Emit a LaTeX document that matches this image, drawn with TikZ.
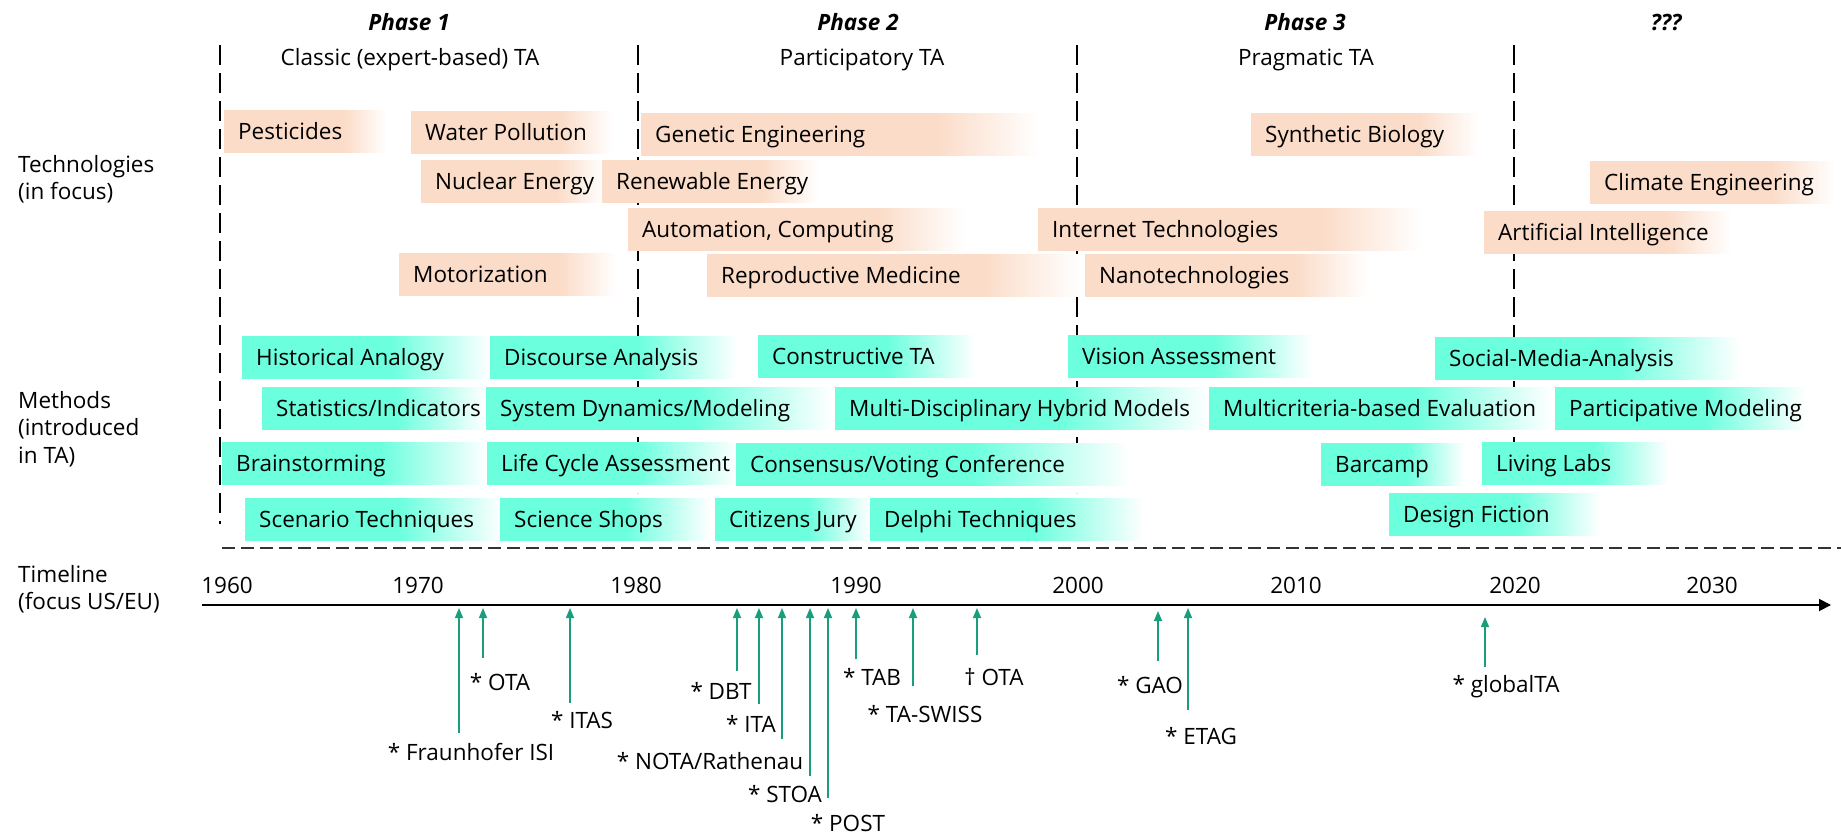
\documentclass[tikz,border=0pt]{standalone}
\usepackage{fontspec}
\setmainfont{Open Sans}
\usetikzlibrary{arrows.meta}
\definecolor{techpeach}{RGB}{251,220,200}
\definecolor{methteal}{RGB}{108,255,222}
\definecolor{eventgreen}{RGB}{24,158,124}
\pgfdeclarehorizontalshading{techfade}{100bp}{color(0bp)=(techpeach); color(62bp)=(techpeach); color(75bp)=(white); color(100bp)=(white)}
\pgfdeclarehorizontalshading{methfade}{100bp}{color(0bp)=(methteal); color(55bp)=(methteal); color(75bp)=(white); color(100bp)=(white)}
\tikzset{box/.style={anchor=west, minimum height=42pt, inner xsep=14pt, inner ysep=0pt,
    text height=21pt, text depth=5pt}}
\tikzset{techbox/.style={box, shading=techfade}}
\tikzset{methbox/.style={box, shading=methfade}}
\tikzset{rowlabel/.style={anchor=west, align=left, inner sep=0pt}}
\tikzset{phaseline/.style={line width=1.8pt, dash pattern=on 20pt off 8pt}}
\tikzset{sepline/.style={line width=1.6pt, black!80, dash pattern=on 13pt off 6pt}}
\tikzset{axis/.style={line width=1.8pt, -{Triangle[length=12pt,width=12pt]}}}
\tikzset{event/.style={eventgreen, line width=1.5pt, -{Triangle[length=10pt,width=8pt]}}}

\begin{document}
\begin{tikzpicture}[x=1pt, y=-1pt, font=\fontsize{22.5}{27.5}\selectfont]
  \useasboundingbox (0,0) rectangle (1841,835);

  % phases
  \begin{scope}[font=\fontsize{22.5}{27.5}\selectfont\bfseries\itshape]
    \node (ph1) at (409,22) {Phase 1};
    \node (ph2) at (858,22) {Phase 2};
    \node (ph3) at (1305,22) {Phase 3};
    \node (ph4) at (1666,23) {???};
  \end{scope}
  \node (classic) at (410,60) {Classic (expert-based) TA};
  \node (partic) at (862,60) {Participatory TA};
  \node (pragm) at (1306,60) {Pragmatic TA};
  \foreach \xx/\yb in {220/524, 638/493, 1077/493, 1514/493}
    \draw[phaseline] (\xx,45) -- (\xx,\yb);

  % row labels
  \node[rowlabel] (techlbl) at (18,179) {Technologies\\(in focus)};
  \node[rowlabel] (methlbl) at (18,429) {Methods\\(introduced\\in TA)};
  \node[rowlabel] (timelbl) at (18,589) {Timeline\\(focus US/EU)};

  % technologies
  \foreach \xa/\xb/\yy/\nm/\txt in {
      224/386/131/pest/{Pesticides}, 411/612/132/water/{Water Pollution},
      641/1040/134/genetic/{Genetic Engineering}, 1251/1478/134/synbio/{Synthetic Biology},
      421/604/181/nuclear/{Nuclear Energy}, 602/818/181/renew/{Renewable Energy},
      1590/1835/182/climate/{Climate Engineering},
      628/965/229/autom/{Automation, Computing}, 1038/1421/229/internet/{Internet Technologies},
      1484/1731/232/ai/{Artificial Intelligence},
      399/616/274/motor/{Motorization}, 707/1081/275/repro/{Reproductive Medicine},
      1085/1368/275/nano/{Nanotechnologies}} {
    \pgfmathsetmacro\bw{\xb-\xa-28}
    \node[techbox] (\nm) at (\xa,\yy) {\makebox[\bw pt][l]{\txt}};
  }

  % methods
  \foreach \xa/\xb/\yy/\nm/\txt in {
      242/490/357/hist/{Historical Analogy}, 490/737/357/disc/{Discourse Analysis},
      758/975/356/constr/{Constructive TA}, 1068/1312/356/vision/{Vision Assessment},
      1435/1740/358/social/{Social-Media-Analysis},
      262/486/408/stat/{Statistics/Indicators}, 486/832/408/sysdyn/{System Dynamics/Modeling},
      835/1208/408/multi/{Multi-Disciplinary Hybrid Models},
      1209/1552/408/mcrit/{Multicriteria-based Evaluation},
      1555/1805/408/partmod/{Participative Modeling},
      222/487/463/brain/{Brainstorming}, 487/737/463/lca/{Life Cycle Assessment},
      736/1129/464/cons/{Consensus/Voting Conference},
      1321/1464/464/barcamp/{Barcamp}, 1482/1668/463/living/{Living Labs},
      245/502/519/scen/{Scenario Techniques}, 500/710/519/shops/{Science Shops},
      715/870/519/citiz/{Citizens Jury}, 870/1143/519/delphi/{Delphi Techniques},
      1389/1600/514/design/{Design Fiction}} {
    \pgfmathsetmacro\bw{\xb-\xa-28}
    \node[methbox] (\nm) at (\xa,\yy) {\makebox[\bw pt][l]{\txt}};
  }

  \coordinate (sep0) at (222,548);
  \coordinate (sep1) at (1841,548);
  \draw[sepline] (sep0) -- (sep1);

  % timeline
  \coordinate (ax0) at (202,605);
  \coordinate (ax1) at (1831,605);
  \draw[axis] (ax0) -- (ax1);
  \foreach \yr/\xx in {1960/227, 1970/418, 1980/636, 1990/856, 2000/1078,
      2010/1296, 2020/1515, 2030/1712}
    \node (y\yr) at (\xx,585) {\yr};

  \foreach \nm/\xx/\yb/\yt/\lx/\ly/\txt in {
      isi/459/733/608/471/752/{* Fraunhofer ISI}, ota/483/658/608/500/682/{* OTA},
      itas/570/703/608/582/720/{* ITAS}, dbt/737/671/608/721/691/{* DBT},
      ita/759/704/608/751/724/{* ITA}, nota/782/739/608/710/761/{* NOTA/Rathenau},
      stoa/810/776/608/785/794/{* STOA}, post/828/798/608/848/823/{* POST},
      tab/856/659/608/872/677/{* TAB}, swiss/913/686/608/925/714/{* TA-SWISS},
      otaend/977/655/608/994/677/{\textdagger\ OTA}, gao/1158/661/611/1150/685/{* GAO},
      etag/1188/710/608/1201/736/{* ETAG}, gta/1485/667/617/1506/687/{* globalTA}} {
    \coordinate (\nm-b) at (\xx,\yb);
    \coordinate (\nm-t) at (\xx,\yt);
    \draw[event] (\nm-b) -- (\nm-t);
    \node (\nm) at (\lx,\ly) {\txt};
  }
\end{tikzpicture}
\end{document}
